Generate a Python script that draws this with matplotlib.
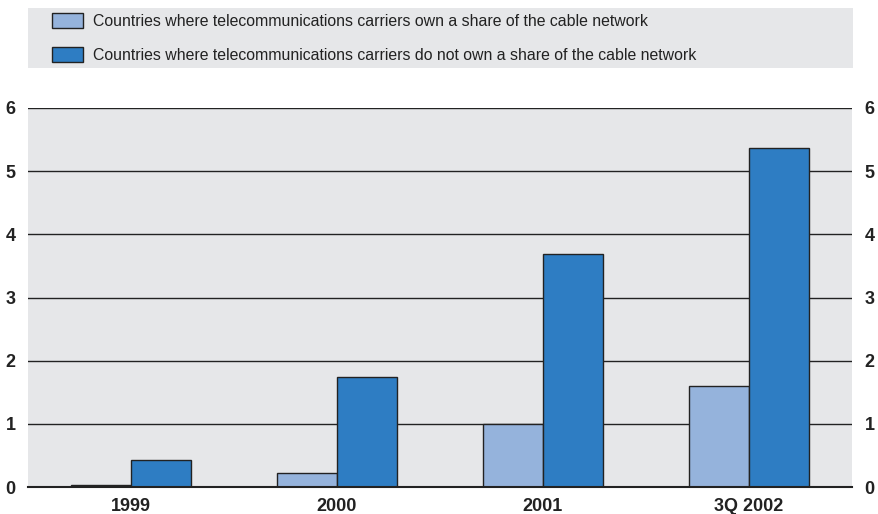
import matplotlib
matplotlib.use("Agg")
import matplotlib.pyplot as plt
import numpy as np
from matplotlib.patches import Rectangle

plt.rcParams['font.family'] = ['Liberation Sans Narrow', 'Liberation Sans', 'DejaVu Sans']

periods = ['1999', '2000', '2001', '3Q 2002']
own_share = [0.03, 0.22, 1.0, 1.6]
no_share = [0.43, 1.74, 3.69, 5.36]
labels = ['Countries where telecommunications carriers own a share of the cable network',
          'Countries where telecommunications carriers do not own a share of the cable network']

light = '#95b3dc'
dark = '#2e7dc3'
panel = '#e6e7e9'

fig = plt.figure(figsize=(8.79, 5.14), dpi=100)
ax = fig.add_axes([28/879, 27/514, 824/879, 379/514])
ax.set_facecolor(panel)

x = np.arange(len(periods))
w = 0.29
b1 = ax.bar(x - w/2, own_share, w, color=light, edgecolor='#222222', linewidth=1, zorder=3)
b2 = ax.bar(x + w/2, no_share, w, color=dark, edgecolor='#222222', linewidth=1, zorder=3)

ax.set_xlim(-0.5, len(periods) - 0.5)
ax.set_ylim(0, 6)
ax.set_yticks(range(7))
ax.grid(axis='y', color='#222222', linewidth=1, zorder=1)
for s in ['left', 'right', 'top']:
    ax.spines[s].set_visible(False)
ax.spines['bottom'].set_color('#222222')
ax.spines['bottom'].set_linewidth(1.5)
ax.spines['bottom'].set_zorder(4)
ax.tick_params(axis='both', length=0, labelsize=13, colors='#222222')
ax.tick_params(axis='y', labelright=True, pad=9)
ax.tick_params(axis='x', pad=8)
ax.set_xticks(x)
ax.set_xticklabels(periods, fontweight='bold')
for t in ax.get_yticklabels():
    t.set_fontweight('bold')

# grey band behind the legend
fig.patches.append(Rectangle((28/879, 1 - 68/514), 825/879, 60/514,
                             transform=fig.transFigure, facecolor=panel,
                             edgecolor='none', zorder=0))
fig.legend([b1, b2], labels, loc='upper left', bbox_to_anchor=(52/879, 1 - 13/514),
           frameon=False, fontsize=11.4, handlelength=1.96, handleheight=1.05,
           labelspacing=1.15, handletextpad=0.6, borderaxespad=0, borderpad=0,
           labelcolor='#222222')

fig.savefig('out.png', dpi=100)
